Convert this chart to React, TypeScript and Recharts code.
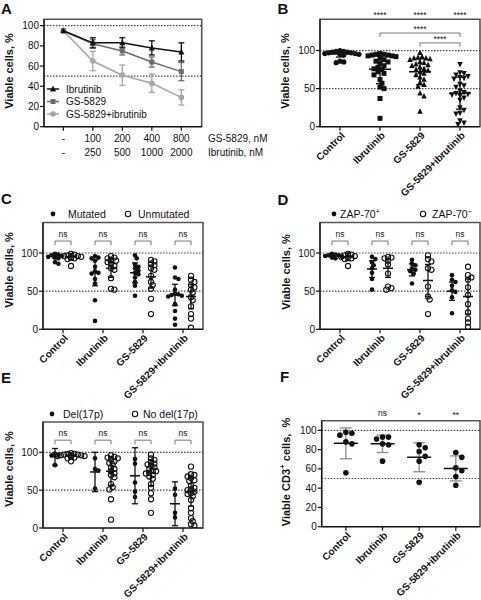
import React from 'react'
import { ComposedChart, Scatter, XAxis, YAxis, ReferenceLine, ReferenceArea, ReferenceDot, ErrorBar, Legend } from 'recharts'

const FONT = '"Liberation Sans", Arial, Helvetica, sans-serif'
const INK = '#111'
const FRAME = '#555'
const DOTTED = '#444'

// A: dose response, mean ± error
const gsDoses = ['-', '100', '200', '400', '800']
const ibrDoses = ['-', '250', '500', '1000', '2000']
const ibrMean = [95, 83, 83, 78, 74]
const ibrErr = [0, 5, 5, 7, 9]
const gsMean = [95, 82, 75, 64, 54.5]
const gsErr = [0, 4, 4, 5, 9]
const comboMean = [95, 65, 51, 43, 29]
const comboErr = [0, 9.5, 10, 9, 7.5]

const groups = ['Control', 'Ibrutinib', 'GS-5829', 'GS-5829+ibrutinib']

// B: all patients
const bControl = [100, 99, 99, 98, 98, 97, 97, 96, 96, 95, 95, 94, 86, 84, 85]
const bIbr = [96, 95, 95, 94, 94, 93, 93, 92, 90, 88, 86, 85, 83, 80, 78, 76, 75, 72, 70, 68, 62, 57, 52, 50, 37, 11]
const bGs = [97, 92, 91, 90, 90, 89, 88, 85, 84, 82, 81, 80, 78, 76, 75, 74, 72, 70, 68, 65, 62, 58, 55, 53, 44, 40, 20]
const bCombo = [82, 71, 70, 68, 66, 65, 64, 63, 56, 54, 52, 47, 45, 44, 43, 42, 41, 38, 35, 25, 22, 18, 17, 8, 5, 3]
const bMean = [95.5, 75.5, 72, 44]
const bSd = [4, 19, 17, 21]
const bStars = ['', '****', '****', '****']

// C: IGHV status
const cMut = [
  [99, 98, 97, 96, 95, 94, 93, 88, 86],
  [96, 94, 93, 90, 82, 76, 74, 73, 66, 60, 38, 11],
  [97, 93, 85, 82, 80, 77, 74, 72, 68, 62, 57, 44],
  [81, 68, 66, 52, 47, 46, 45, 44, 43, 33, 24, 14, 6],
]
const cUnmut = [
  [99, 98, 97, 96, 96, 95, 94, 93, 92, 83],
  [96, 94, 93, 91, 90, 88, 86, 83, 80, 78, 67, 53, 52],
  [91, 89, 86, 84, 80, 78, 70, 62, 58, 53, 40, 20],
  [70, 65, 62, 58, 55, 52, 48, 42, 38, 30, 20, 14, 2],
]
const cMutMean = [96, 74, 74, 45]
const cMutSd = [3, 17, 13, 14]
const cUnmutMean = [95, 80, 69, 43]
const cUnmutSd = [4, 12, 15, 16]

// D: ZAP-70
const dPos = [
  [99, 98, 97, 97, 96, 95, 94, 93],
  [95, 92, 88, 84, 80, 74, 66, 52],
  [91, 86, 84, 80, 78, 76, 73, 60],
  [71, 65, 62, 57, 51, 49, 42, 21],
]
const dNeg = [
  [99, 98, 97, 96, 95, 94, 93, 92, 83],
  [95, 94, 93, 90, 85, 73, 56, 54, 52],
  [97, 92, 89, 80, 78, 56, 43, 39, 20],
  [82, 71, 68, 65, 55, 45, 33, 22, 14, 9, 3],
]
const dPosMean = [97, 79, 78, 50]
const dPosSd = [2, 11, 8, 12]
const dNegMean = [95, 80, 64, 43]
const dNegSd = [5, 12, 21, 23]

// E: del(17p)
const eDel = [
  [98, 97, 96, 83],
  [92, 78, 76, 52],
  [91, 85, 60, 48, 41],
  [52, 44, 20, 14],
]
const eNoDel = [
  [99, 98, 98, 97, 97, 96, 96, 95, 95, 94, 93, 92, 88],
  [96, 94, 93, 92, 90, 88, 86, 84, 80, 78, 75, 72, 70, 67, 58, 54, 51, 38, 11],
  [97, 92, 90, 87, 85, 84, 82, 80, 78, 76, 75, 73, 72, 70, 68, 65, 58, 53, 46, 38, 20],
  [81, 71, 70, 68, 66, 63, 62, 56, 53, 51, 50, 48, 46, 45, 42, 37, 26, 20, 13, 9, 5, 3],
]
const eDelMean = [94, 74, 69, 32]
const eDelErr = [11, 26, 37, 29]
const eNoDelMean = [96, 75, 73, 48]
const eNoDelErr = [3, 19, 17, 19]

// F: CD3+ T cells
const fVals = [
  [98, 97, 95, 88, 86, 56],
  [93, 93, 91, 86, 85, 68],
  [85, 82, 78, 73, 68, 46],
  [77, 72, 61, 58, 52, 43],
]
const fMean = [86.5, 86, 72, 60.5]
const fSd = [16, 9, 15, 13]
const fStars = ['', 'ns', '*', '**']

// simple beeswarm: spread points sideways when they would overlap
function swarm(values: number[], center: number, pxX: number, pxY: number, d: number) {
  const placed: { dx: number; v: number }[] = []
  return [...values].sort((a, b) => b - a).map(v => {
    let dx = 0
    for (let k = 0; k < 60; k++) {
      const c = k === 0 ? 0 : (k % 2 ? 1 : -1) * Math.ceil(k / 2) * d * 0.5
      if (placed.every(p => (c - p.dx) ** 2 + ((v - p.v) * pxY) ** 2 >= d * d)) { dx = c; break }
    }
    placed.push({ dx, v })
    return { x: center + dx / pxX, y: v }
  })
}

const filled = (r: number) => (p: any) => <circle cx={p.cx} cy={p.cy} r={r} fill={INK} />
const open = (r: number) => (p: any) => <circle cx={p.cx} cy={p.cy} r={r} fill="none" stroke={INK} strokeWidth={1.1} />
const square = (s: number, c = INK) => (p: any) => <rect x={p.cx - s / 2} y={p.cy - s / 2} width={s} height={s} fill={c} />
const triUp = (s: number, c = INK) => (p: any) =>
  <path d={`M${p.cx},${p.cy - s * 0.58}L${p.cx + s / 2},${p.cy + s * 0.42}L${p.cx - s / 2},${p.cy + s * 0.42}Z`} fill={c} />
const triDown = (s: number) => (p: any) =>
  <path d={`M${p.cx},${p.cy + s * 0.58}L${p.cx + s / 2},${p.cy - s * 0.42}L${p.cx - s / 2},${p.cy - s * 0.42}Z`} fill={INK} />
const meanLine = (hw: number) => (p: any) =>
  <line x1={p.cx - hw} x2={p.cx + hw} y1={p.cy} y2={p.cy} stroke={INK} strokeWidth={1.5} />

const catTick = (yb: number) => (p: any) => (
  <text transform={`translate(${p.x + 3},${yb + 7}) rotate(-45)`} dy="0.35em" textAnchor="end"
    fontSize={10} fontWeight="bold" fontFamily={FONT} fill={INK}>{groups[p.payload.value]}</text>
)

type Sub = { vals: number[][]; offset: number; shape: (p: any) => React.ReactElement; d: number; mean: number[]; err: number[] }
type Bracket = { x1: number; x2: number; y: number; leg: number; label: string; off: number }
type KeyItem = { cx: number; tx: number; open: boolean; label: React.ReactNode }

function bracketLines(b: Bracket, key: string) {
  const st = { stroke: '#777', strokeWidth: 1, ifOverflow: 'visible' as const }
  return [
    <ReferenceLine key={key + 'h'} segment={[{ x: b.x1, y: b.y }, { x: b.x2, y: b.y }]} {...st}
      label={{ value: b.label, position: 'top', offset: b.off, fontSize: 8.5, fill: INK, fontFamily: FONT }} />,
    <ReferenceLine key={key + 'l'} segment={[{ x: b.x1, y: b.y }, { x: b.x1, y: b.y - b.leg }]} {...st} />,
    <ReferenceLine key={key + 'r'} segment={[{ x: b.x2, y: b.y }, { x: b.x2, y: b.y - b.leg }]} {...st} />,
  ]
}

function DotKey({ items, w }: { items: KeyItem[]; w: number }) {
  return (
    <svg width={w} height={14} style={{ display: 'block', overflow: 'visible' }}>
      {items.map((it, i) => (
        <g key={i}>
          {it.open
            ? <circle cx={it.cx} cy={7} r={2.7} fill="none" stroke={INK} strokeWidth={1.1} />
            : <circle cx={it.cx} cy={7} r={2.4} fill={INK} />}
          <text x={it.tx} y={10.7} fontSize={10.5} fontFamily={FONT} fill={INK}>{it.label}</text>
        </g>
      ))}
    </svg>
  )
}

function DotPanel(props: {
  left: number; top: number; w: number; h: number
  x0: number; x1: number; y0: number; y1: number
  yMax: number; yTicks: number[]; pad: number
  subs: Sub[]; meanHalf: number; cap: number; errColor: string
  brackets: Bracket[]; stars?: string[]; starOff?: number; keyItems?: KeyItem[]; refLines: number[]
}) {
  const { left, top, w, h, x0, x1, y0, y1, yMax, yTicks, pad, subs, meanHalf, cap, errColor, brackets, stars, keyItems } = props
  const pxX = (x1 - x0) / (3 + 2 * pad)
  const pxY = (y1 - y0) / yMax
  const dom: [number, number] = [-pad, 3 + pad]
  const axisStyle = { stroke: INK, strokeWidth: 1.2 }
  return (
    <div style={{ position: 'absolute', left, top }}>
      <ComposedChart width={w} height={h} margin={{ top: y0, right: w - x1, bottom: h - y1 - 60, left: 0 }}>
        <ReferenceArea x1={dom[0]} x2={dom[1]} y1={0} y2={yMax} fill="none" stroke={FRAME} strokeWidth={1.6} ifOverflow="visible" />
        <XAxis type="number" dataKey="x" domain={dom} allowDataOverflow ticks={[0, 1, 2, 3]} interval={0}
          height={60} tickSize={4} axisLine={axisStyle} tickLine={axisStyle} tick={catTick(y1)} />
        <YAxis type="number" dataKey="y" domain={[0, yMax]} allowDataOverflow ticks={yTicks} interval={0} width={x0}
          tickSize={4} tickMargin={1} axisLine={axisStyle} tickLine={axisStyle}
          tick={{ fontSize: 10, fill: INK, fontFamily: FONT }} />
        {props.refLines.map(v => (
          <ReferenceLine key={'r' + v} y={v} stroke={DOTTED} strokeWidth={1.2} strokeDasharray="1.5 1.5" />
        ))}
        {brackets.flatMap((b, i) => bracketLines(b, 'b' + i))}
        {stars && stars.map((s, g) => s ? (
          <ReferenceDot key={'st' + g} x={g} y={yMax} r={0} fill="none" stroke="none" ifOverflow="visible"
            label={{ value: s, position: 'top', offset: s.startsWith('*') ? (props.starOff ?? 1.5) : 5,
              fontSize: 8.5, fill: INK, fontFamily: FONT }} />
        ) : null)}
        {subs.map((s, i) => (
          <Scatter key={'s' + i} data={s.vals.flatMap((v, g) => swarm(v, g + s.offset, pxX, pxY, s.d))}
            shape={s.shape} isAnimationActive={false} />
        ))}
        {subs.map((s, i) => (
          <Scatter key={'m' + i} data={s.mean.map((m, g) => ({ x: g + s.offset, y: m, e: s.err[g] }))}
            shape={meanLine(meanHalf)} isAnimationActive={false}>
            <ErrorBar dataKey="e" direction="y" width={cap} stroke={errColor} strokeWidth={1.3} />
          </Scatter>
        ))}
        {keyItems && (
          <Legend layout="horizontal" verticalAlign="middle" align="center"
            wrapperStyle={{ left: 0, top: 7, width: w }} content={() => <DotKey items={keyItems} w={w} />} />
        )}
      </ComposedChart>
    </div>
  )
}

const doseTick = (yb: number) => (p: any) => (
  <g>
    <text x={p.x} y={yb + 14.8} textAnchor="middle" fontSize={10} fontFamily={FONT} fill={INK}>{gsDoses[p.payload.value]}</text>
    <text x={p.x} y={yb + 28.8} textAnchor="middle" fontSize={10} fontFamily={FONT} fill={INK}>{ibrDoses[p.payload.value]}</text>
  </g>
)

const aSeries = [
  { name: 'GS-5829+ibrutinib', mean: comboMean, err: comboErr, color: '#a5a5a5', mark: 'circle' },
  { name: 'GS-5829', mean: gsMean, err: gsErr, color: '#6c6c6c', mark: 'square' },
  { name: 'Ibrutinib', mean: ibrMean, err: ibrErr, color: INK, mark: 'triangle' },
]

const markFor = (mark: string, c: string) =>
  mark === 'circle' ? (p: any) => <circle cx={p.cx} cy={p.cy} r={2.8} fill={c} />
    : mark === 'square' ? square(5, c) : triUp(6, c)

function AKey() {
  const rows = [...aSeries].reverse()
  return (
    <svg width={130} height={40} style={{ display: 'block', overflow: 'visible' }}>
      {rows.map((s, i) => {
        const y = 9 + i * 12.5
        const M = markFor(s.mark, s.color)
        return (
          <g key={s.name}>
            <line x1={47} x2={59} y1={y} y2={y} stroke={s.color} strokeWidth={1.5} />
            <M cx={53} cy={y} />
            <text x={66} y={y + 3.6} fontSize={10} fontFamily={FONT} fill={INK}>{s.name}</text>
          </g>
        )
      })}
    </svg>
  )
}

function PanelA() {
  const x0 = 44, x1 = 201.7, y0 = 19.3, y1 = 126.7, w = 240, h = 170
  const dom: [number, number] = [-0.654, 4.69]
  const axisStyle = { stroke: INK, strokeWidth: 1.2 }
  return (
    <div style={{ position: 'absolute', left: 0, top: 0 }}>
      <ComposedChart width={w} height={h} margin={{ top: y0, right: w - x1, bottom: h - y1 - 30, left: 0 }}>
        <ReferenceArea x1={dom[0]} x2={dom[1]} y1={0} y2={106.3} fill="none" stroke={FRAME} strokeWidth={1.6} ifOverflow="visible" />
        <XAxis type="number" dataKey="x" domain={dom} allowDataOverflow ticks={[0, 1, 2, 3, 4]} interval={0}
          height={30} tickSize={4} axisLine={axisStyle} tickLine={axisStyle} tick={doseTick(y1)} />
        <YAxis type="number" dataKey="y" domain={[0, 106.3]} allowDataOverflow ticks={[0, 20, 40, 60, 80, 100]} interval={0}
          width={x0} tickSize={4} tickMargin={1} axisLine={axisStyle} tickLine={axisStyle}
          tick={{ fontSize: 10, fill: INK, fontFamily: FONT }} />
        <ReferenceLine y={100} stroke={DOTTED} strokeWidth={1.2} strokeDasharray="1.5 1.5" />
        <ReferenceLine y={50} stroke={DOTTED} strokeWidth={1.2} strokeDasharray="1.5 1.5" />
        {aSeries.map(s => (
          <Scatter key={s.name} name={s.name} data={s.mean.map((m, i) => ({ x: i, y: m, e: s.err[i] }))}
            line={{ stroke: s.color, strokeWidth: 1.5 }} lineType="joint" shape={markFor(s.mark, s.color)}
            isAnimationActive={false}>
            <ErrorBar dataKey="e" direction="y" width={3} stroke={s.color} strokeWidth={1.3} />
          </Scatter>
        ))}
        <Legend layout="horizontal" verticalAlign="middle" align="center"
          wrapperStyle={{ left: 0, top: 80, width: 140 }} content={() => <AKey />} />
      </ComposedChart>
    </div>
  )
}

const sup = (base: string, s: string) => <>{base}<tspan dy={-4} fontSize={7.5}>{s}</tspan></>

function Overlay() {
  const letter = (t: string, x: number, y: number) =>
    <text x={x} y={y} fontSize={15} fontWeight="bold" fill={INK}>{t}</text>
  const title = (x: number, y: number, content: React.ReactNode) =>
    <text transform={`translate(${x},${y}) rotate(-90)`} textAnchor="middle" dominantBaseline="central"
      fontSize={11} fontWeight="bold" fill={INK}>{content}</text>
  return (
    <svg width={481} height={600} style={{ position: 'absolute', left: 0, top: 0, pointerEvents: 'none' }} fontFamily={FONT}>
      {letter('A', 1, 14)}
      {letter('B', 277.5, 14)}
      {letter('C', 1, 204)}
      {letter('D', 277.5, 205)}
      {letter('E', 1, 383)}
      {letter('F', 280, 382)}
      {title(9, 71, 'Viable cells, %')}
      {title(285, 71, 'Viable cells, %')}
      {title(9, 270, 'Viable cells, %')}
      {title(286, 272, 'Viable cells, %')}
      {title(9, 469, 'Viable cells, %')}
      {title(285.5, 472, <>Viable CD3<tspan dy={-4} fontSize={8}>+</tspan><tspan dy={4}>{' cells,\u00a0 %'}</tspan></>)}
      <text x={208} y={141.5} fontSize={10} fill={INK}>GS-5829, nM</text>
      <text x={208} y={155.5} fontSize={10} fill={INK}>Ibrutinib, nM</text>
    </svg>
  )
}

const nsBrackets = (y: number): Bracket[] =>
  [0, 1, 2, 3].map(g => ({ x1: g - 0.2, x2: g + 0.2, y, leg: 5.5, label: 'ns', off: 4.5 }))

export default function App() {
  return (
    <div style={{ position: 'absolute', left: 0, top: 0, width: 481, height: 600, background: '#fff', fontFamily: FONT }}>
      <PanelA />
      <DotPanel left={240} top={0} w={241} h={200} x0={80} x1={240} y0={19.3} y1={126.7}
        yMax={141} yTicks={[0, 50, 100]} pad={0.5} refLines={[100, 50]}
        subs={[
          { vals: [bControl, [], [], []], offset: 0, shape: filled(2.6), d: 3.8, mean: [], err: [] },
          { vals: [[], bIbr, [], []], offset: 0, shape: square(5), d: 4, mean: [], err: [] },
          { vals: [[], [], bGs, []], offset: 0, shape: triUp(5.5), d: 4, mean: [], err: [] },
          { vals: [[], [], [], bCombo], offset: 0, shape: triDown(5.5), d: 4, mean: bMean, err: bSd },
        ]}
        meanHalf={11} cap={4} errColor={INK} stars={bStars} starOff={1.5}
        brackets={[
          { x1: 1, x2: 3, y: 123, leg: 5, label: '****', off: 1.2 },
          { x1: 2, x2: 3, y: 110, leg: 5, label: '****', off: 1.2 },
        ]} />
      <DotPanel left={0} top={200} w={240} h={200} x0={43} x1={203} y0={22.5} y1={129.3}
        yMax={140} yTicks={[0, 50, 100]} pad={0.5} refLines={[100, 50]}
        subs={[
          { vals: cMut, offset: -0.2, shape: filled(2.3), d: 3.4, mean: cMutMean, err: cMutSd },
          { vals: cUnmut, offset: 0.2, shape: open(2.6), d: 3.4, mean: cUnmutMean, err: cUnmutSd },
        ]}
        meanHalf={5} cap={3} errColor={INK} brackets={nsBrackets(115.7)}
        keyItems={[
          { cx: 53, tx: 68, open: false, label: 'Mutated' },
          { cx: 128, tx: 138, open: true, label: 'Unmutated' },
        ]} />
      <DotPanel left={240} top={200} w={241} h={200} x0={80} x1={240} y0={22.5} y1={129.3}
        yMax={140} yTicks={[0, 50, 100]} pad={0.5} refLines={[100, 50]}
        subs={[
          { vals: dPos, offset: -0.2, shape: filled(2.3), d: 3.4, mean: dPosMean, err: dPosSd },
          { vals: dNeg, offset: 0.2, shape: open(2.6), d: 3.4, mean: dNegMean, err: dNegSd },
        ]}
        meanHalf={5} cap={3} errColor={INK} brackets={nsBrackets(115.7)}
        keyItems={[
          { cx: 94, tx: 100, open: false, label: sup('ZAP-70', '+') },
          { cx: 183, tx: 192, open: true, label: sup('ZAP-70', '\u2212') },
        ]} />
      <DotPanel left={0} top={400} w={240} h={200} x0={43} x1={203} y0={22} y1={128}
        yMax={140} yTicks={[0, 50, 100]} pad={0.5} refLines={[100, 50]}
        subs={[
          { vals: eDel, offset: -0.2, shape: filled(2.3), d: 3.4, mean: eDelMean, err: eDelErr },
          { vals: eNoDel, offset: 0.2, shape: open(2.6), d: 3.4, mean: eNoDelMean, err: eNoDelErr },
        ]}
        meanHalf={5} cap={3} errColor={INK} brackets={nsBrackets(116)}
        keyItems={[
          { cx: 52, tx: 63, open: false, label: 'Del(17p)' },
          { cx: 135, tx: 143, open: true, label: 'No del(17p)' },
        ]} />
      <DotPanel left={240} top={400} w={241} h={200} x0={81.7} x1={240} y0={20.7} y1={126.7}
        yMax={110} yTicks={[0, 20, 40, 60, 80, 100]} pad={0.66} refLines={[100, 50]}
        subs={[{ vals: fVals, offset: 0, shape: filled(2.8), d: 6, mean: fMean, err: fSd }]}
        meanHalf={12} cap={6} errColor="#8a8a8a" stars={fStars} starOff={2.5} brackets={[]} />
      <Overlay />
    </div>
  )
}
